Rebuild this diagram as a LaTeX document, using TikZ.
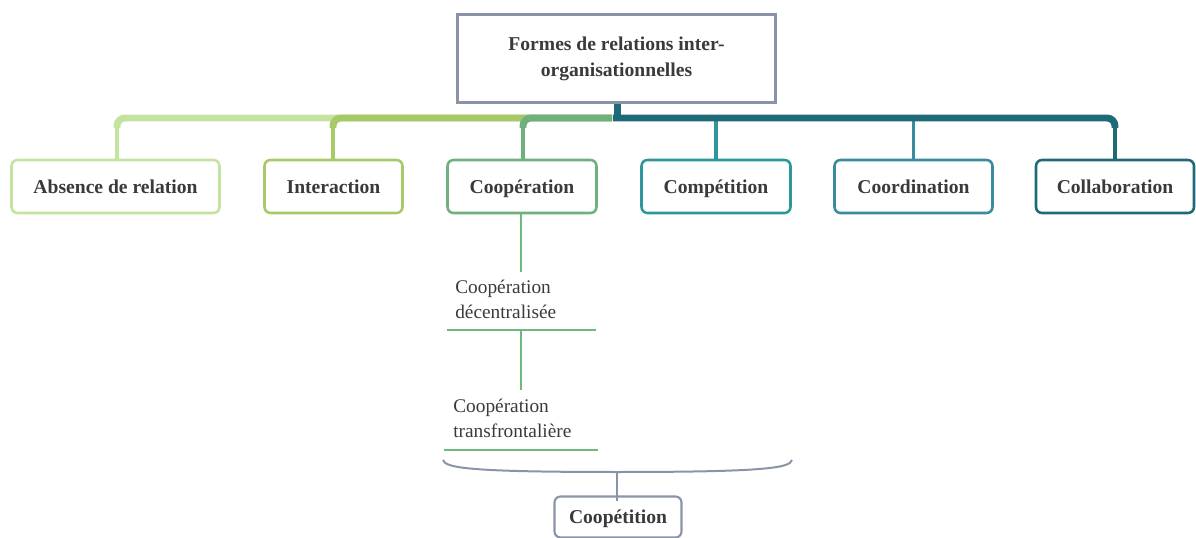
\documentclass[tikz,border=0pt]{standalone}
\usepackage{fontspec}
\setmainfont{Liberation Serif}
\definecolor{cLight}{HTML}{C4E3A0}
\definecolor{cOlive}{HTML}{A7C968}
\definecolor{cSea}{HTML}{70B07F}
\definecolor{cComp}{HTML}{2E979C}
\definecolor{cCoord}{HTML}{3A8B9D}
\definecolor{cDark}{HTML}{1F6A79}
\definecolor{cSub}{HTML}{6DBA7E}
\definecolor{cGray}{HTML}{8A93A8}
\definecolor{cText}{HTML}{3A3A3A}
\tikzset{
  catbox/.style={draw=#1, line width=1.9pt, rounded corners=4.5pt, fill=white,
    minimum height={53*0.75pt}, inner sep=0pt, text=cText,
    text height=10.5pt, text depth=0.7pt,
    font=\fontsize{14.7}{17}\selectfont\bfseries},
  bus/.style={draw=#1, line width=5.2pt, rounded corners=6pt},
  drop/.style={draw=#1, line width=2.4pt},
  subtext/.style={anchor=west, align=left, inner sep=0pt, text=cText,
    font=\fontsize{14.5}{18.75}\selectfont},
  subline/.style={draw=cSub, line width=2pt},
}
\begin{document}
\begin{tikzpicture}[x=0.75pt, y=-0.75pt]
\useasboundingbox (0,0) rectangle (1196,538);
% top box
\node[draw=cGray, line width=2.3pt, minimum width={318*0.75pt}, minimum height={88*0.75pt},
  align=center, text=cText, font=\fontsize{14.7}{19.5}\selectfont\bfseries, inner sep=0pt]
  (top) at (616.5,58.5) {Formes de relations inter-\\organisationnelles};
% category boxes
\node[catbox=cLight, minimum width={208*0.75pt}] (abs) at (115.5,186.5) {Absence de relation};
\node[catbox=cOlive, minimum width={138*0.75pt}] (int) at (333.5,186.5) {Interaction};
\node[catbox=cSea, minimum width={149*0.75pt}] (coop) at (522,186.5) {Coopération};
\node[catbox=cComp, minimum width={149*0.75pt}] (comp) at (716,186.5) {Compétition};
\node[catbox=cCoord, minimum width={158*0.75pt}] (coord) at (913.5,186.5) {Coordination};
\node[catbox=cDark, minimum width={158*0.75pt}] (coll) at (1115,186.5) {Collaboration};
% junction coordinates
\coordinate (jl) at (612,118);
\coordinate (jr) at (613,118);
\coordinate (kabs) at (117,128);
\coordinate (kint) at (333,128);
\coordinate (kcoop) at (523,128);
\coordinate (kcoll) at (1115,128);
% left (green) branches
\draw[bus=cLight] (jl) -| (kabs);
\draw[drop=cLight] (kabs) -- (kabs |- abs.north);
\draw[bus=cOlive] (jl) -| (kint);
\draw[drop=cOlive] (kint) -- (kint |- int.north);
\draw[bus=cSea] (jl) -| (kcoop);
\draw[drop=cSea] (kcoop) -- (kcoop |- coop.north);
% right (teal) branches
\draw[drop=cComp] (comp.north |- jr) -- (comp.north);
\draw[drop=cCoord] (coord.north |- jr) -- (coord.north);
\draw[bus=cDark] (jr) -| (kcoll);
\draw[drop=cDark, line width=3.4pt] (kcoll) -- (kcoll |- coll.north);
% stem
\draw[draw=cDark, line width=5.2pt] ([xshift=0.75pt]top.south) -- ([xshift=0.75pt]top.south |- jr);
% sub-items under Coopération
\coordinate (v1) at (521,272);
\node[subtext] (sub1) at (455,299.5) {Coopération\\décentralisée};
\coordinate (h1l) at (447,330);
\coordinate (h1r) at (596,330);
\coordinate (h1m) at (521,330);
\coordinate (v2) at (521,390);
\node[subtext] (sub2) at (453,418) {Coopération\\transfrontalière};
\coordinate (h2l) at (444,450);
\coordinate (h2r) at (598,450);
\draw[subline] (coop.south -| v1) -- (v1);
\draw[subline] (h1l) -- (h1r);
\draw[subline] (h1m) -- (v2);
\draw[subline] (h2l) -- (h2r);
% brace and Coopétition
\node[draw=cGray, line width=1.6pt, rounded corners=4.5pt, minimum width={127*0.75pt},
  minimum height={41*0.75pt}, inner sep=0pt, text=cText, text height=10.5pt, text depth=0.7pt,
  font=\fontsize{14.7}{17}\selectfont\bfseries] (coopet) at (618,517) {Coopétition};
\coordinate (bl) at (443,460);
\coordinate (br) at (792,460);
\coordinate (bm) at (617,472);
\draw[draw=cGray, line width=1.5pt] (bl) .. controls (445,468) and (470,472) .. (bm)
  .. controls (765,472) and (790,468) .. (br);
\draw[draw=cGray, line width=1.5pt] (bm) -- ([yshift=-0.75pt*6]bm |- coopet.north);
\end{tikzpicture}
\end{document}
